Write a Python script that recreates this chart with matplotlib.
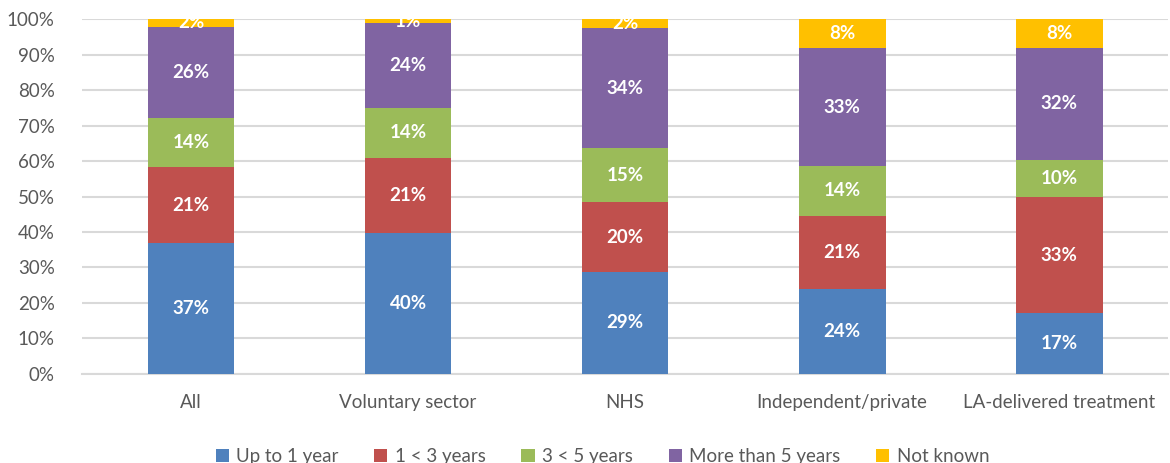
import numpy as np
import matplotlib
matplotlib.use('Agg')
import matplotlib.pyplot as plt

plt.rcParams['font.family'] = ['Lato', 'DejaVu Sans']

categories = ['All', 'Voluntary sector', 'NHS', 'Independent/private', 'LA-delivered treatment']
series_names = ['Up to 1 year', '1 < 3 years', '3 < 5 years', 'More than 5 years', 'Not known']
colors = ['#4F81BD', '#C0504D', '#9BBB59', '#8064A2', '#FFC000']

up_to_1 = [36.8, 39.6, 28.6, 23.8, 17.0]
one_to_3 = [21.4, 21.3, 19.9, 20.8, 32.9]
three_to_5 = [13.9, 14.2, 15.1, 14.0, 10.4]
more_than_5 = [25.9, 23.8, 33.9, 33.2, 31.7]
not_known = [2.0, 1.1, 2.5, 8.2, 8.0]
labels = [
    ['37%', '40%', '29%', '24%', '17%'],
    ['21%', '21%', '20%', '21%', '33%'],
    ['14%', '14%', '15%', '14%', '10%'],
    ['26%', '24%', '34%', '33%', '32%'],
    ['2%', '1%', '2%', '8%', '8%'],
]

data = [up_to_1, one_to_3, three_to_5, more_than_5, not_known]

fig = plt.figure(figsize=(11.7, 4.63), dpi=100)
ax = fig.add_axes([0.0705, 0.193, 0.9275, 0.765])

x = np.arange(len(categories))
bottom = np.zeros(len(categories))
for vals, name, col, labs in zip(data, series_names, colors, labels):
    vals = np.array(vals)
    ax.bar(x, vals, 0.4, bottom=bottom, color=col, label=name, zorder=3)
    for xi, b, v, t in zip(x, bottom, vals, labs):
        ax.text(xi, b + v / 2, t, ha='center', va='center', color='white',
                fontsize=13.5, fontweight='bold', zorder=4)
    bottom += vals

ax.set_xlim(-0.5, len(categories) - 0.5)
ax.set_ylim(0, 100)
ax.set_yticks(np.arange(0, 101, 10))
ax.set_yticklabels([f'{v}%' for v in range(0, 101, 10)])
ax.set_xticks(x)
ax.set_xticklabels(categories)
ax.tick_params(axis='both', length=0, colors='#595959', labelsize=13.5)
ax.tick_params(axis='x', pad=15)
ax.tick_params(axis='y', pad=20)
ax.yaxis.grid(True, color='#D9D9D9', linewidth=1.5, zorder=0)
for s in ['top', 'right', 'left']:
    ax.spines[s].set_visible(False)
ax.spines['bottom'].set_color('#D9D9D9')
ax.spines['bottom'].set_linewidth(1.5)

leg = fig.legend(loc='lower center', bbox_to_anchor=(0.515, -0.04), ncol=5, frameon=False,
                 fontsize=13.5, handlelength=0.7, handleheight=0.7, handletextpad=0.4,
                 columnspacing=1.9)
for t in leg.get_texts():
    t.set_color('#595959')

fig.savefig('out.png', dpi=100)
